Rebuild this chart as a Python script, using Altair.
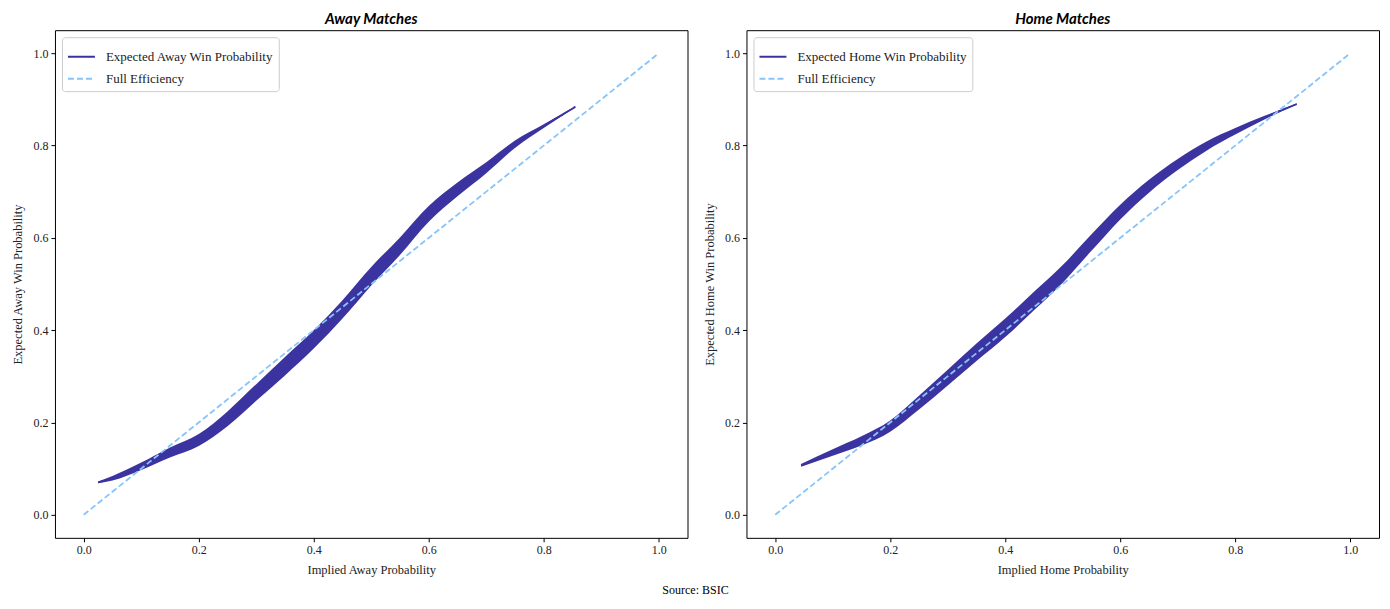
import altair as alt
import pandas as pd

# ---- data ----
away_x = [0.025, 0.05, 0.1, 0.15, 0.2, 0.25, 0.3, 0.35, 0.4, 0.45, 0.5, 0.55, 0.6, 0.65, 0.7, 0.75, 0.8, 0.855]
away_y = [0.070, 0.079, 0.105, 0.135, 0.162, 0.208, 0.265, 0.322, 0.380, 0.445, 0.517, 0.582, 0.652, 0.705, 0.752, 0.803, 0.842, 0.884]
away_hw = [0.002, 0.005, 0.008, 0.011, 0.013, 0.016, 0.018, 0.020, 0.020, 0.020, 0.020, 0.019, 0.017, 0.015, 0.012, 0.008, 0.004, 0.001]

home_x = [0.045, 0.1, 0.15, 0.2, 0.25, 0.3, 0.35, 0.4, 0.45, 0.5, 0.55, 0.6, 0.65, 0.7, 0.75, 0.8, 0.85, 0.907]
home_y = [0.107, 0.135, 0.160, 0.192, 0.243, 0.297, 0.352, 0.405, 0.463, 0.522, 0.590, 0.656, 0.712, 0.759, 0.799, 0.831, 0.860, 0.890]
home_hw = [0.003, 0.007, 0.010, 0.012, 0.015, 0.017, 0.019, 0.020, 0.020, 0.019, 0.018, 0.016, 0.014, 0.012, 0.010, 0.007, 0.004, 0.001]

diag_x = [0.0, 1.0]
diag_y = [0.0, 1.0]

DARK = "#3b33a0"
LIGHT = "#87c4fa"
SERIF = "Liberation Serif"
TICKS = [0.0, 0.2, 0.4, 0.6, 0.8, 1.0]


def panel(side, xs, ys, hws, title):
    series = f"Expected {side} Win Probability"
    band = pd.DataFrame({
        "x": xs,
        "lo": [y - h for y, h in zip(ys, hws)],
        "hi": [y + h for y, h in zip(ys, hws)],
    })
    lines = pd.DataFrame({
        "x": list(xs) + diag_x,
        "y": list(ys) + diag_y,
        "series": [series] * len(xs) + ["Full Efficiency"] * len(diag_x),
        "order": list(range(len(xs))) + list(range(len(diag_x))),
    })
    xscale = alt.Scale(domain=[-0.05, 1.05], nice=False, zero=False)
    yscale = alt.Scale(domain=[-0.05, 1.05], nice=False, zero=False)
    xaxis = alt.Axis(title=f"Implied {side} Probability", values=TICKS, format=".1f",
                     grid=False, domain=False)
    yaxis = alt.Axis(title=f"Expected {side} Win Probability", values=TICKS, format=".1f",
                     grid=False, domain=False)

    area = alt.Chart(band).mark_area(color=DARK, opacity=1, interpolate="monotone").encode(
        x=alt.X("x:Q", scale=xscale, axis=xaxis),
        y=alt.Y("lo:Q", scale=yscale, axis=yaxis),
        y2="hi:Q",
    )
    line = alt.Chart(lines).mark_line(strokeWidth=1.8, interpolate="monotone").encode(
        x=alt.X("x:Q", scale=xscale, axis=xaxis),
        y=alt.Y("y:Q", scale=yscale, axis=yaxis),
        order="order:Q",
        color=alt.Color("series:N",
                        scale=alt.Scale(domain=[series, "Full Efficiency"], range=[DARK, LIGHT]),
                        legend=alt.Legend(title=None)),
        strokeDash=alt.StrokeDash("series:N",
                                  scale=alt.Scale(domain=[series, "Full Efficiency"],
                                                  range=[[1, 0], [6, 3]]),
                                  legend=alt.Legend(title=None)),
    )
    return alt.layer(area, line).properties(
        width=633, height=508,
        title=alt.TitleParams(title, font="Lato", fontSize=15, fontStyle="italic",
                              fontWeight="bold", anchor="middle", offset=3, color="black"),
    )


left = panel("Away", away_x, away_y, away_hw, "Away Matches")
right = panel("Home", home_x, home_y, home_hw, "Home Matches")

chart = alt.hconcat(left, right, spacing=14).resolve_scale(
    color="independent", strokeDash="independent"
).resolve_legend(color="independent", strokeDash="independent").properties(
    title=alt.TitleParams("Source: BSIC", orient="bottom", anchor="middle", font=SERIF,
                          fontSize=12, fontWeight="normal", color="black", offset=8),
    padding={"left": 3, "top": 3, "right": 2, "bottom": 2},
).configure_view(
    stroke="black", strokeWidth=1
).configure_axis(
    labelFont=SERIF, labelFontSize=12, labelColor="#222222",
    titleFont=SERIF, titleFontSize=12.5, titleFontWeight="normal", titleColor="#222222",
    tickColor="black", tickSize=4, labelPadding=3, titlePadding=8,
).configure_legend(
    orient="top-left", offset=7, fillColor="white", strokeColor="#cccccc",
    cornerRadius=3, padding=5, labelFont=SERIF, labelFontSize=13, labelColor="#222222",
    labelLimit=400, symbolType="stroke", symbolSize=729, symbolStrokeWidth=2,
    labelOffset=10, rowPadding=-6,
)

chart.save("out.html", embed_options={"renderer": "svg", "actions": False})
